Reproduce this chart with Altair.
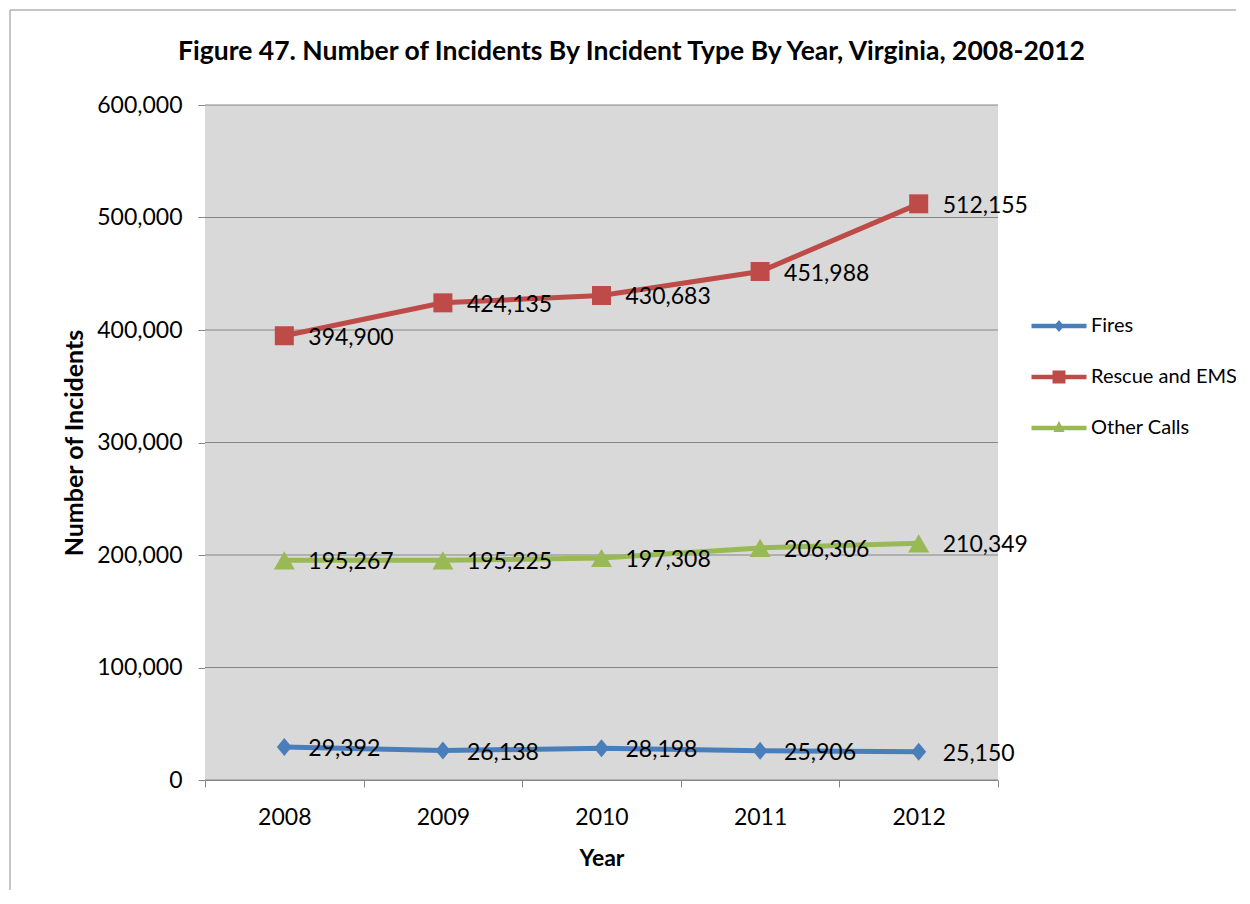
import altair as alt
import pandas as pd

years = ["2008", "2009", "2010", "2011", "2012"]
series_names = ["Fires", "Rescue and EMS", "Other Calls"]
fires = [29392, 26138, 28198, 25906, 25150]
rescue = [394900, 424135, 430683, 451988, 512155]
other = [195267, 195225, 197308, 206306, 210349]
colors = ["#4A7EBB", "#BE4B48", "#98B954"]
y_ticks = [0, 100000, 200000, 300000, 400000, 500000, 600000]

title_text = "Figure 47. Number of Incidents By Incident Type By Year, Virginia, 2008-2012"
FONT = "Lato"

rows = []
for name, vals in zip(series_names, [fires, rescue, other]):
    for yr, v in zip(years, vals):
        rows.append({"year": yr, "series": name, "value": v})
df = pd.DataFrame(rows)
grid_df = pd.DataFrame({"value": y_ticks})

# legend symbols: line segment + marker (custom paths, unit square scaled)
line_part = "M-1.146,-0.094L1.146,-0.094L1.146,0.094L-1.146,0.094Z"
legend_paths = [
    line_part + "M0,-0.25L0.21,0L0,0.25L-0.21,0Z",
    line_part + "M-0.27,-0.27L0.27,-0.27L0.27,0.27L-0.27,0.27Z",
    line_part + "M0,-0.3L0.23,0.17L-0.23,0.17Z",
]
marker_shapes = ["M0,-1L0.83,0L0,1L-0.83,0Z", "square", "triangle-up"]
marker_sizes = [324, 361, 441]

color_scale = alt.Scale(domain=series_names, range=colors)

x_enc = alt.X(
    "year:O",
    bandPosition=0.5,
    scale=alt.Scale(type="band", paddingInner=0, paddingOuter=0),
    axis=alt.Axis(
        title="Year",
        labelAngle=0,
        tickBand="extent",
        tickSize=7,
        tickColor="#868686",
        domainColor="#868686",
        labelFont=FONT,
        labelFontSize=23,
        labelColor="#000000",
        labelPadding=19,
        titleFont=FONT,
        titleFontSize=23,
        titleFontWeight="bold",
        titleColor="#000000",
        titlePadding=18,
        grid=False,
    ),
)
y_enc = alt.Y(
    "value:Q",
    scale=alt.Scale(domain=[0, 600000], nice=False),
    axis=alt.Axis(
        title="Number of Incidents",
        values=y_ticks,
        format=",.0f",
        tickSize=7,
        tickColor="#868686",
        domainColor="#868686",
        grid=False,
        labelFont=FONT,
        labelFontSize=23,
        labelColor="#000000",
        labelPadding=16,
        titleFont=FONT,
        titleFontSize=25,
        titleFontWeight="bold",
        titleColor="#000000",
        titlePadding=9,
    ),
)

base = alt.Chart(df)

# plot-area background and horizontal gridlines
panel = alt.Chart(pd.DataFrame({"k": [0]})).mark_rect(
    fill="#D9D9D9", strokeWidth=0
).encode(
    x=alt.value(0), x2=alt.value("width"),
    y=alt.value(0), y2=alt.value("height"),
)
grid = alt.Chart(grid_df).mark_rule(color="#868686", strokeWidth=1).encode(
    y=y_enc, x=alt.value(0), x2=alt.value("width"),
)

leg = alt.Legend(
    title=None, orient="none", legendX=830, legendY=197,
    symbolSize=2304, symbolStrokeWidth=0, symbolOpacity=1,
    labelFont=FONT, labelFontSize=20, labelColor="#000000",
    labelOffset=8, rowPadding=17, padding=0,
)
legend_layer = base.transform_filter("false").mark_point(
    filled=True, opacity=1, strokeWidth=0
).encode(
    color=alt.Color("series:N", scale=color_scale, legend=leg),
    shape=alt.Shape("series:N", scale=alt.Scale(domain=series_names, range=legend_paths), legend=leg),
)

line_layers = []
point_layers = []
for name, col, shp, sz in zip(series_names, colors, marker_shapes, marker_sizes):
    sub = base.transform_filter(alt.datum.series == name)
    line_layers.append(sub.mark_line(strokeWidth=5, color=col).encode(x=x_enc, y=y_enc))
    point_layers.append(
        sub.mark_point(filled=True, shape=shp, size=sz, opacity=1, strokeWidth=0, color=col)
        .encode(x=x_enc, y=y_enc)
    )

labels = base.mark_text(
    align="left", baseline="alphabetic", dx=24, dy=9,
    font=FONT, fontSize=23, color="#000000",
).encode(x=x_enc, y=y_enc, text=alt.Text("value:Q", format=","))

frame = alt.Chart(pd.DataFrame({"k": [0]})).mark_rect(
    fillOpacity=0, stroke="#8C8C8C", strokeWidth=1
).encode(
    x=alt.value(-195), x2=alt.value(1300),
    y=alt.value(-95), y2=alt.value(1000),
)

chart = alt.layer(
    frame, panel, grid, legend_layer, *line_layers, *point_layers, labels
).properties(
    width=793,
    height=675,
    title=alt.TitleParams(
        title_text, font=FONT, fontSize=26.5, fontWeight="bold", color="#000000",
        anchor="middle", frame="group", dx=30, offset=-56,
    ),
    autosize=alt.AutoSizeParams(type="none"),
    padding={"left": 197, "top": 97, "right": 238, "bottom": 110},
).configure(
    background="#FFFFFF",
    view=alt.ViewConfig(stroke=None),
)

chart.save("out.html", embed_options={"renderer": "svg", "actions": False})
